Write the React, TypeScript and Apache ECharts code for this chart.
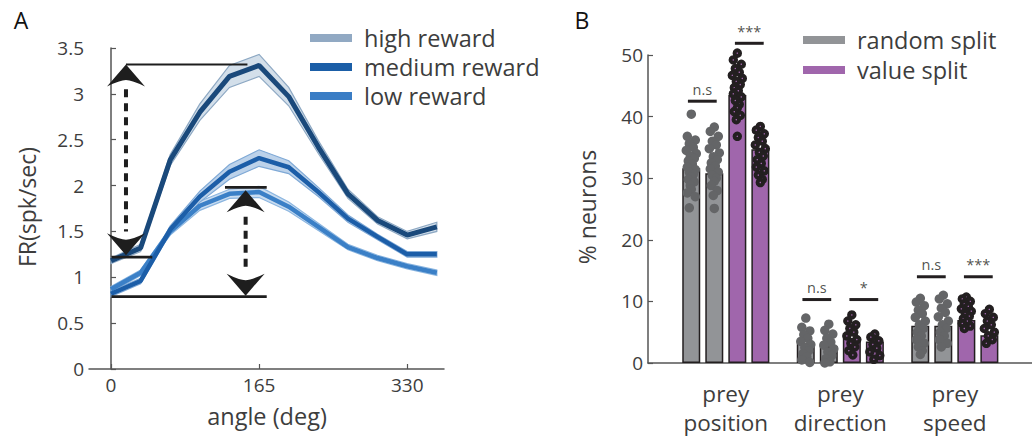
import React, { useEffect, useRef } from 'react';
import * as echarts from 'echarts';

// ---------- Panel A data ----------
const angles = [0, 33, 66, 99, 132, 165, 198, 231, 264, 297, 330, 363];
const highReward = [1.18, 1.32, 2.28, 2.8, 3.19, 3.31, 2.97, 2.42, 1.91, 1.62, 1.46, 1.55];
const highErr = [0.03, 0.04, 0.06, 0.09, 0.12, 0.12, 0.1, 0.07, 0.05, 0.04, 0.04, 0.05];
const mediumReward = [0.82, 0.96, 1.52, 1.88, 2.15, 2.3, 2.2, 1.93, 1.64, 1.44, 1.25, 1.25];
const mediumErr = [0.03, 0.03, 0.04, 0.06, 0.08, 0.09, 0.07, 0.05, 0.04, 0.03, 0.03, 0.03];
const lowReward = [0.87, 1.05, 1.5, 1.78, 1.91, 1.93, 1.77, 1.55, 1.33, 1.21, 1.12, 1.05];
const lowErr = [0.03, 0.03, 0.04, 0.05, 0.05, 0.06, 0.05, 0.04, 0.03, 0.03, 0.03, 0.03];
const angleTicks = [0, 165, 330];
const frTicksMax = 3.5;

// annotation levels (data space)
const bigArrowAngle = 16.7;
const bigTopLevel = 3.32;
const bigBottomLevel = 1.22;
const bigDashRange = [3.05, 1.5];
const smallArrowAngle = 150;
const smallTopLevel = 1.98;
const smallBottomLevel = 0.79;
const smallDashRange = [1.66, 1.08];

// ---------- Panel B data ----------
const categories = ['prey\nposition', 'prey\ndirection', 'prey\nspeed'];
const randomSplitA = [31.6, 3.2, 6.05];
const randomSplitB = [30.8, 2.7, 6.05];
const valueSplitA = [43.5, 4.05, 7.0];
const valueSplitB = [34.7, 3.5, 4.5];

const randomPtsA = [
  [40.4, 36.8, 36.2, 35.6, 35.0, 34.5, 34.0, 33.6, 33.2, 32.8, 32.3, 31.8, 31.4, 31.0, 30.6, 30.2, 29.8, 29.4, 28.8, 28.2, 27.6, 27.0, 25.2],
  [7.3, 5.8, 5.2, 4.6, 4.0, 3.5, 3.0, 2.5, 2.0, 1.5, 1.0, 0.5, 0.1],
  [10.5, 9.9, 9.3, 8.6, 8.0, 7.4, 6.8, 6.2, 5.6, 5.0, 4.4, 3.8, 3.2, 2.6, 2.0, 1.4],
];
const randomPtsB = [
  [38.3, 37.6, 36.8, 36.0, 35.4, 34.8, 34.1, 33.5, 33.0, 32.5, 32.0, 31.5, 31.0, 30.5, 30.0, 29.5, 28.8, 28.0, 27.2, 25.1],
  [6.3, 5.3, 4.7, 4.0, 3.4, 2.9, 2.3, 1.8, 1.2, 0.7, 0.2, 0.0],
  [11.0, 10.4, 9.6, 8.9, 8.2, 7.5, 6.8, 6.2, 5.6, 5.0, 4.4, 3.8, 3.2, 2.6],
];
const valuePtsA = [
  [50.3, 49.2, 48.5, 47.8, 47.2, 46.7, 46.2, 45.7, 45.2, 44.7, 44.2, 43.7, 43.2, 42.6, 42.0, 41.4, 40.8, 40.2, 39.5, 36.8],
  [7.8, 6.8, 6.2, 5.6, 5.0, 4.4, 3.8, 3.2, 2.6, 2.0, 1.3],
  [10.7, 10.4, 10.0, 9.6, 9.2, 8.8, 8.4, 8.0, 7.6, 7.2, 6.8, 6.4, 6.0, 5.6],
];
const valuePtsB = [
  [38.4, 37.8, 37.2, 36.6, 36.0, 35.4, 34.8, 34.2, 33.6, 33.0, 32.4, 31.8, 31.2, 30.5, 29.8, 29.3],
  [4.7, 4.2, 3.6, 3.0, 2.4, 1.8, 1.2, 0.6],
  [8.7, 8.0, 7.4, 6.8, 6.2, 5.6, 5.0, 4.4, 3.8, 3.2],
];

const sigLabels = ['n.s', '***', 'n.s', '*', 'n.s', '***'];
const sigGroup = [1, 1, 2, 2, 3, 3];
const sigSide = [-1, 1, -1, 1, -1, 1];
const sigLevels = [42.5, 51.9, 10.3, 10.3, 14.0, 14.0];

// ---------- styles ----------
const FONT = '"Open Sans", "Liberation Sans", sans-serif';
const TXT = '#3d3d3d';
const AXIS = '#555555';
const PX_PER_UNIT = 114.5;
const BAR_OFFSETS_PX = [-34.5, -11.5, 11.5, 34.5];
const JITTER_PX = [0, -4, 4, -2, 2, -5, 5, -1, 3, -3, 1, -4, 4, -2, 2, 0, -3, 3, -1];
const ARROW_UP = 'path://M19 0 L 38 22 Q 25 15.5 19 15.5 Q 13 15.5 0 22 Z';
const ARROW_DOWN = 'path://M19 22 L 38 0 Q 25 6.5 19 6.5 Q 13 6.5 0 0 Z';

function bandSeries(mean: number[], err: number[], fill: string, edge: string) {
  return {
    type: 'custom', xAxisIndex: 0, yAxisIndex: 0, silent: true, z: 1, clip: false,
    data: [[angles[0], mean[0]]],
    renderItem: (_params: any, api: any) => {
      const up = angles.map((a, i) => api.coord([a, mean[i] + err[i]]));
      const lo = angles.map((a, i) => api.coord([a, mean[i] - err[i]])).reverse();
      return {
        type: 'polygon',
        shape: { points: up.concat(lo) },
        style: { fill, stroke: edge, lineWidth: 1.2 },
      };
    },
  };
}

function meanSeries(name: string, mean: number[], color: string, width: number) {
  return {
    type: 'line', name, xAxisIndex: 0, yAxisIndex: 0,
    data: angles.map((a, i) => [a, mean[i]]), symbol: 'none',
    lineStyle: { width, color }, itemStyle: { color }, z: 3,
  };
}

function segment(p: number[][], width: number, dashed = false) {
  return {
    type: 'line', xAxisIndex: 0, yAxisIndex: 0, data: p, symbol: 'none', silent: true, z: 5,
    lineStyle: { width, color: '#1e1e1e', type: dashed ? [8, 6] : 'solid', cap: 'butt' },
  };
}

function arrow(x: number, y: number, up: boolean) {
  return {
    type: 'scatter', xAxisIndex: 0, yAxisIndex: 0, data: [[x, y]], silent: true, z: 6,
    symbol: up ? ARROW_UP : ARROW_DOWN, symbolSize: [38, 22], symbolOffset: [0, up ? 11 : -11],
    itemStyle: { color: '#1e1e1e', opacity: 1 },
  };
}

function barSeries(name: string, vals: number[], color: string) {
  return {
    type: 'bar', name, xAxisIndex: 1, yAxisIndex: 1,
    data: vals.map((v, i) => [i + 1, v]),
    barWidth: 18, barGap: '28%',
    itemStyle: { color, borderColor: '#231f20', borderWidth: 1.5 }, z: 2,
  };
}

function pointSeries(name: string, pts: number[][], barIdx: number, isValue: boolean) {
  const data: number[][] = [];
  pts.forEach((arr, g) => {
    arr.forEach((v, k) => {
      const dx = (BAR_OFFSETS_PX[barIdx] + JITTER_PX[k % JITTER_PX.length]) / PX_PER_UNIT;
      data.push([g + 1 + dx, v]);
    });
  });
  return {
    type: 'scatter', name, xAxisIndex: 1, yAxisIndex: 1, data, silent: true, z: 4, clip: false,
    symbol: 'circle',
    symbolSize: isValue ? 5.5 : 9.5,
    itemStyle: isValue
      ? { color: '#a066ac', borderColor: '#231f20', borderWidth: 4, opacity: 1 }
      : { color: '#646567', opacity: 1 },
  };
}

function sigLine(i: number) {
  const c = sigGroup[i] + (sigSide[i] * 23.5) / PX_PER_UNIT;
  const hw = 14.4 / PX_PER_UNIT;
  return {
    type: 'line', xAxisIndex: 1, yAxisIndex: 1, symbol: 'none', silent: true, z: 6, clip: false,
    data: [[c - hw, sigLevels[i]], [c + hw, sigLevels[i]]],
    lineStyle: { color: '#231f20', width: 3, cap: 'butt' },
  };
}

export default function App() {
  const ref = useRef<HTMLDivElement>(null);
  useEffect(() => {
    if (!ref.current) return;
    const chart = echarts.init(ref.current, null, { renderer: 'svg' });

    const sigTextData = sigLabels.map((l, i) => ({
      value: [sigGroup[i] + (sigSide[i] * 23.5) / PX_PER_UNIT, sigLevels[i]],
      label: { formatter: l },
    }));

    const legendText = { fontFamily: FONT, fontSize: 23.5, color: TXT, padding: [0, 0, 0, 7] };

    const option: any = {
      animation: false,
      textStyle: { fontFamily: FONT },
      grid: [
        { left: 89, top: 48, width: 355, height: 321 },
        { left: 648, top: 55, width: 384, height: 308 },
      ],
      xAxis: [
        {
          type: 'value', gridIndex: 0, min: -24.5, max: 371,
          axisLine: { show: true, lineStyle: { color: AXIS, width: 1.5 } },
          axisTick: { show: true, inside: true, length: 5, customValues: angleTicks, lineStyle: { color: AXIS, width: 1.2 } },
          axisLabel: { customValues: angleTicks, fontSize: 19, color: TXT, margin: 6, fontFamily: FONT },
          splitLine: { show: false },
        },
        {
          type: 'value', gridIndex: 1, min: 0.3205, max: 3.674,
          axisLine: { show: true, lineStyle: { color: AXIS, width: 1.5 } },
          axisTick: { show: false },
          axisLabel: {
            customValues: [1, 2, 3],
            formatter: (v: number) => categories[Math.round(v) - 1] || '',
            fontSize: 22.5, lineHeight: 29, color: TXT, margin: 16, fontFamily: FONT,
          },
          splitLine: { show: false },
        },
      ],
      yAxis: [
        {
          type: 'value', gridIndex: 0, min: 0, max: frTicksMax, interval: 0.5,
          axisLine: { show: true, lineStyle: { color: AXIS, width: 1.5 } },
          axisTick: { show: true, inside: true, length: 5, lineStyle: { color: AXIS, width: 1.2 } },
          axisLabel: { fontSize: 19, color: TXT, margin: 5, fontFamily: FONT },
          splitLine: { show: false },
        },
        {
          type: 'value', gridIndex: 1, min: 0, max: 50, interval: 10,
          axisLine: { show: true, lineStyle: { color: AXIS, width: 1.5 } },
          axisTick: { show: true, inside: true, length: 5, lineStyle: { color: AXIS, width: 1.2 } },
          axisLabel: { fontSize: 19, color: TXT, margin: 5, fontFamily: FONT },
          splitLine: { show: false },
        },
      ],
      legend: [
        {
          left: 310, top: 26, padding: 0, orient: 'vertical', icon: 'rect', itemWidth: 42, itemHeight: 8, itemGap: 5,
          selectedMode: false,
          textStyle: legendText,
          data: [
            { name: 'high reward', itemStyle: { color: '#91a9c3', borderWidth: 0 } },
            { name: 'medium reward', itemStyle: { color: '#1b5ea7', borderWidth: 0 } },
            { name: 'low reward', itemStyle: { color: '#3a7dc5', borderWidth: 0 } },
          ],
        },
        {
          left: 803, top: 28, padding: 0, orient: 'vertical', icon: 'rect', itemWidth: 42, itemHeight: 8, itemGap: 6,
          selectedMode: false,
          textStyle: legendText,
          data: [
            { name: 'random split', itemStyle: { color: '#929497', borderWidth: 0 } },
            { name: 'value split', itemStyle: { color: '#a066ac', borderWidth: 0 } },
          ],
        },
      ],
      graphic: [
        { type: 'text', x: 21, y: 20, style: { text: 'A', font: `23px ${FONT}`, fill: '#111', align: 'center', verticalAlign: 'middle' } },
        { type: 'text', x: 582, y: 20, style: { text: 'B', font: `23px ${FONT}`, fill: '#111', align: 'center', verticalAlign: 'middle' } },
        { type: 'text', x: 27, y: 207, rotation: Math.PI / 2, style: { text: 'FR(spk/sec)', font: `23px ${FONT}`, fill: TXT, align: 'center', verticalAlign: 'middle' } },
        { type: 'text', x: 267, y: 416, style: { text: 'angle (deg)', font: `23.5px ${FONT}`, fill: TXT, align: 'center', verticalAlign: 'middle' } },
        { type: 'text', x: 587, y: 207, rotation: Math.PI / 2, style: { text: '% neurons', font: `23px ${FONT}`, fill: TXT, align: 'center', verticalAlign: 'middle' } },
      ],
      series: [
        bandSeries(highReward, highErr, '#d3dfea', '#8da8c3'),
        bandSeries(lowReward, lowErr, '#c9dcf0', '#8cb6e0'),
        bandSeries(mediumReward, mediumErr, '#bcd2ea', '#7fa9d6'),
        meanSeries('low reward', lowReward, '#3b80c7', 4.5),
        meanSeries('medium reward', mediumReward, '#1c5ea8', 4.5),
        meanSeries('high reward', highReward, '#1a497b', 5),
        // annotations
        segment([[bigArrowAngle, bigTopLevel], [152, bigTopLevel]], 2.2),
        segment([[0.5, bigBottomLevel], [46, bigBottomLevel]], 2.8),
        segment([[127, smallTopLevel], [173.5, smallTopLevel]], 2.8),
        segment([[0.5, smallBottomLevel], [173.5, smallBottomLevel]], 2.8),
        segment([[bigArrowAngle, bigDashRange[0]], [bigArrowAngle, bigDashRange[1]]], 4, true),
        segment([[smallArrowAngle, smallDashRange[0]], [smallArrowAngle, smallDashRange[1]]], 4, true),
        arrow(bigArrowAngle, bigTopLevel, true),
        arrow(bigArrowAngle, bigBottomLevel + 0.02, false),
        arrow(smallArrowAngle, smallTopLevel - 0.03, true),
        arrow(smallArrowAngle, smallBottomLevel + 0.01, false),
        // panel B
        barSeries('random split', randomSplitA, '#929497'),
        barSeries('random split', randomSplitB, '#929497'),
        barSeries('value split', valueSplitA, '#a066ac'),
        barSeries('value split', valueSplitB, '#a066ac'),
        pointSeries('rA pts', randomPtsA, 0, false),
        pointSeries('rB pts', randomPtsB, 1, false),
        pointSeries('vA pts', valuePtsA, 2, true),
        pointSeries('vB pts', valuePtsB, 3, true),
        ...sigLabels.map((_, i) => sigLine(i)),
        {
          type: 'scatter', name: 'sig', xAxisIndex: 1, yAxisIndex: 1, symbolSize: 1, silent: true, z: 6, clip: false,
          data: sigTextData,
          itemStyle: { color: 'rgba(0,0,0,0)' },
          label: { show: true, position: 'top', distance: 4, fontSize: 14.5, color: '#231f20', fontFamily: FONT },
        },
      ],
    };
    chart.setOption(option);
    return () => chart.dispose();
  }, []);
  return <div ref={ref} style={{ position: 'fixed', left: 0, top: 0, width: 1032, height: 439, background: '#fff' }} />;
}
